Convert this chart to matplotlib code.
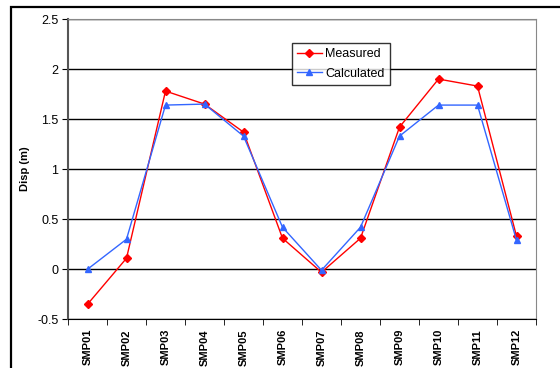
import matplotlib.pyplot as plt
from matplotlib.patches import Rectangle
import numpy as np

plt.rcParams['font.family'] = ['Liberation Sans', 'DejaVu Sans']

labels = ['SMP01', 'SMP02', 'SMP03', 'SMP04', 'SMP05', 'SMP06',
          'SMP07', 'SMP08', 'SMP09', 'SMP10', 'SMP11', 'SMP12']
measured = [-0.35, 0.11, 1.78, 1.65, 1.37, 0.31, -0.03, 0.31, 1.42, 1.90, 1.83, 0.33]
calculated = [0.0, 0.30, 1.64, 1.65, 1.33, 0.42, -0.01, 0.42, 1.33, 1.64, 1.64, 0.29]

fig = plt.figure(figsize=(5.6, 3.68), dpi=100)
ax = fig.add_axes([68 / 560, (368 - 319.3) / 368, 468 / 560, 300.3 / 368])

# outer chart frame (clipped at right/bottom like the source)
fig.patches.append(Rectangle((11 / 560, -0.1), 1.2, (368 - 7) / 368 + 0.1,
                             transform=fig.transFigure, fill=False,
                             edgecolor='black', linewidth=1.6))

x = np.arange(len(labels))
ax.plot(x, measured, color='#ff0000', marker='D', markersize=4, linewidth=1,
        label='Measured')
ax.plot(x, calculated, color='#3366ff', marker='^', markersize=5, linewidth=1,
        label='Calculated')

ax.set_xlim(-0.5, len(labels) - 0.5)
ax.set_ylim(-0.5, 2.5)
ax.set_yticks(np.arange(-0.5, 2.51, 0.5))
ax.set_yticklabels(['-0.5', '0', '0.5', '1', '1.5', '2', '2.5'], fontsize=9)
ax.yaxis.grid(True, color='black', linewidth=1)
ax.set_axisbelow(True)

ax.set_xticks(x)
ax.set_xticklabels(labels, rotation=90, fontsize=8, fontweight='bold')
ax.set_xticks(np.arange(-0.5, len(labels), 1), minor=True)
ax.tick_params(axis='x', which='major', length=0, pad=7)
ax.tick_params(axis='x', which='minor', length=4, direction='out')
ax.tick_params(axis='y', length=4, direction='out', pad=3)

ax.set_ylabel('Disp (m)', fontsize=8, fontweight='bold', labelpad=5)

for side in ['top', 'right']:
    ax.spines[side].set_color('#888888')
ax.spines['left'].set_color('#555555')
ax.spines['left'].set_linewidth(1.5)
ax.spines['bottom'].set_color('black')

leg = ax.legend(loc='upper left', bbox_to_anchor=(0.478, 0.92), fontsize=9,
                frameon=True, fancybox=False, edgecolor='black',
                borderaxespad=0, handlelength=2.0, borderpad=0.4,
                labelspacing=0.6, handletextpad=0.3)
leg.get_frame().set_linewidth(1)

fig.savefig('out.png', dpi=100)
